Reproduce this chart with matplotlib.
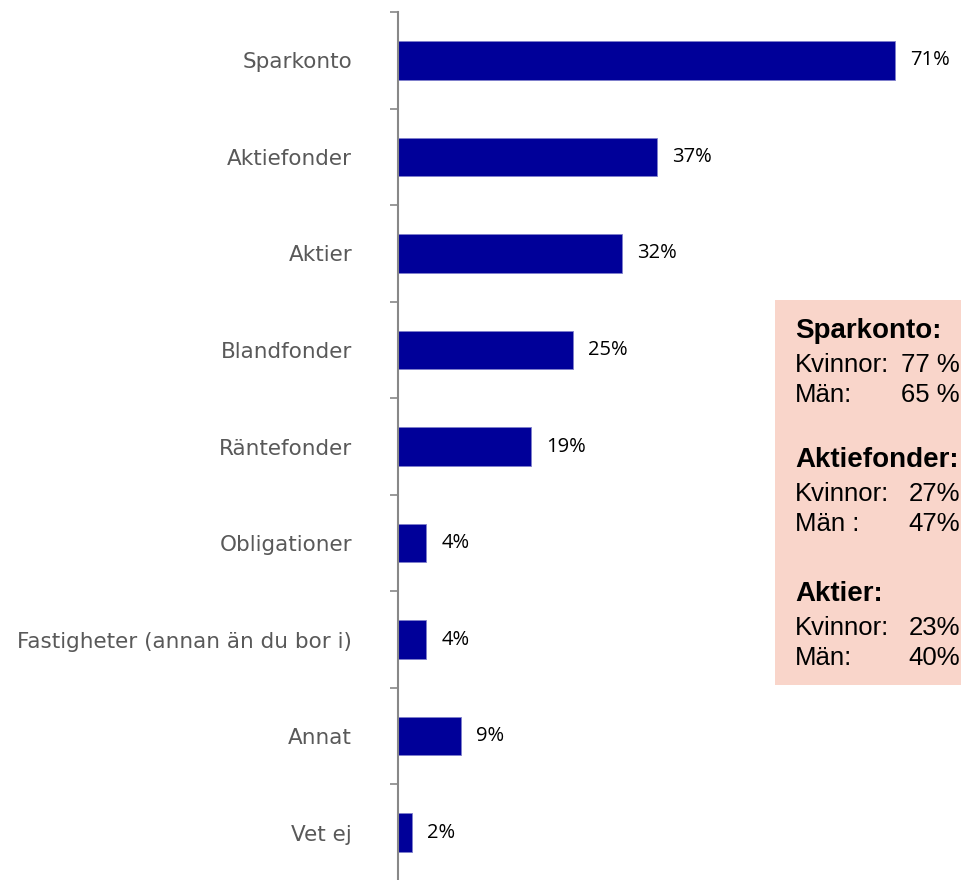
import matplotlib
matplotlib.use("Agg")
import matplotlib.pyplot as plt
from matplotlib.patches import Rectangle

categories = ["Sparkonto", "Aktiefonder", "Aktier", "Blandfonder", "Räntefonder",
              "Obligationer", "Fastigheter (annan än du bor i)", "Annat", "Vet ej"]
values = [71, 37, 32, 25, 19, 4, 4, 9, 2]
value_labels = ["71%", "37%", "32%", "25%", "19%", "4%", "4%", "9%", "2%"]

box_headers = ["Sparkonto:", "Aktiefonder:", "Aktier:"]
box_rows = [
    [("Kvinnor:", "77 %"), ("Män:", "65 %")],
    [("Kvinnor:", "27%"), ("Män :", "47%")],
    [("Kvinnor:", "23%"), ("Män:", "40%")],
]

W, H = 961, 880
fig = plt.figure(figsize=(W / 100, H / 100), dpi=100)
ax = fig.add_axes([398 / W, 1 - 881 / H, 1 - 398 / W, 869 / H])

n = len(categories)
pos = list(range(n))
ax.barh(pos, values, height=0.4, color="#000099", edgecolor="#8080cc", linewidth=0.6)
ax.set_ylim(n - 0.5, -0.5)
ax.set_xlim(0, (W - 398) / 7.0)

for p, v, lab in zip(pos, values, value_labels):
    ax.text(v + 2.2, p, lab, va="center", ha="left", fontsize=14.5,
            family="Open Sans", color="black")

ax.set_yticks(pos)
ax.set_yticklabels(categories, fontsize=15.5, color="#595959", family="DejaVu Sans")
ax.set_yticks([i - 0.5 for i in range(n + 1)], minor=True)
ax.tick_params(axis="y", which="major", length=0, pad=33)
ax.tick_params(axis="y", which="minor", length=6, color="#888888", width=1.2)
ax.set_xticks([])
for s in ["top", "right", "bottom"]:
    ax.spines[s].set_visible(False)
ax.spines["left"].set_color("#888888")
ax.spines["left"].set_linewidth(1.5)

# Annotation box
fig.patches.append(Rectangle((775 / W, 1 - 685 / H), (W - 775) / W, 385 / H,
                             transform=fig.transFigure, facecolor="#F9D5CA",
                             edgecolor="none", zorder=0))
group_base = [338, 467, 601]
row_offsets = [34, 64]
for gy, head, rows in zip(group_base, box_headers, box_rows):
    fig.text(795 / W, 1 - gy / H, head, fontsize=20, fontweight="bold",
             family="Liberation Sans", va="baseline", ha="left")
    for off, (l, r) in zip(row_offsets, rows):
        yy = gy + off
        fig.text(795 / W, 1 - yy / H, l, fontsize=18.5, family="Liberation Sans",
                 va="baseline", ha="left")
        fig.text(960 / W, 1 - yy / H, r, fontsize=18.5, family="Liberation Sans",
                 va="baseline", ha="right")

fig.savefig("out.png", dpi=100)
